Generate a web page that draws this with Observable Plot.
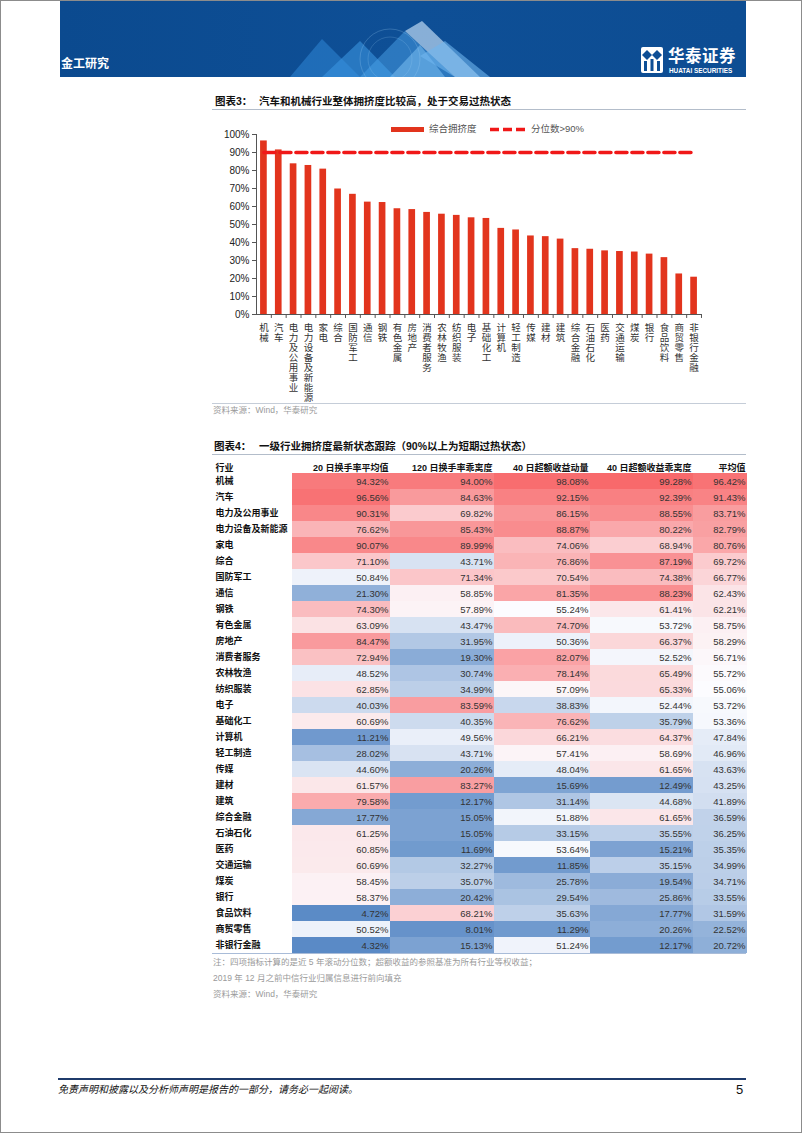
<!DOCTYPE html>
<html>
<head>
<meta charset="utf-8">
<script src="https://cdn.jsdelivr.net/npm/d3@7"></script>
<script src="https://cdn.jsdelivr.net/npm/@observablehq/plot@0.6"></script>
<style>
html,body{margin:0;padding:0;background:#fff}
#page{position:relative;width:802px;height:1133px;box-sizing:border-box;border:1px solid #8c8c8c;overflow:hidden;
  font-family:"Liberation Sans",Arial,"Noto Sans CJK SC",sans-serif;color:#222}
.abs{position:absolute;white-space:nowrap}
.cjk{font-family:"Liberation Sans","Noto Sans CJK SC",sans-serif}
.title{font-size:10.5px;font-weight:700;color:#111;line-height:14px}
.hline{position:absolute;height:1px;background:#b3bdca}
.note{font-size:8.5px;color:#9a9a9a;line-height:12px}
</style>
</head>
<body>
<div id="page">
  <!-- page header band -->
  <div class="abs" style="left:59px;top:0;width:686px;height:76px;background:linear-gradient(90deg,#0b4a8f 0%,#0e4f96 50%,#0d4d93 100%);overflow:hidden">
    <svg width="686" height="76" style="position:absolute;left:0;top:0">
      <polygon points="230,76 262,38 300,76" fill="#2f86d6" opacity="0.55"/>
      <polygon points="262,76 300,40 335,76" fill="#3b95e0" opacity="0.6"/>
      <polygon points="300,76 345,30 395,76" fill="#4aa2e8" opacity="0.5"/>
      <polygon points="330,76 360,44 385,76" fill="#7cc0f2" opacity="0.55"/>
      <polygon points="345,30 362,20 420,76 395,76" fill="#bcd8f2" opacity="0.7"/>
      <polygon points="360,55 385,40 430,76 395,76" fill="#6fb6ee" opacity="0.6"/>
      <circle cx="330" cy="58" r="30" fill="none" stroke="#9fd0f5" stroke-opacity="0.25"/>
      <circle cx="330" cy="58" r="22" fill="none" stroke="#9fd0f5" stroke-opacity="0.2"/>
    </svg>
    <div class="abs cjk" style="left:1px;top:55px;font-size:12px;color:#fff;font-weight:700;line-height:16px">金工研究</div>
    <svg class="abs" style="left:581px;top:46px" width="22" height="26" viewBox="0 0 22 26">
      <rect x="0" y="0" width="22" height="26" rx="2" fill="#fff"/>
      <polygon points="6,3 11,8 6,13 1,8" fill="#0e4f96"/>
      <polygon points="16,3 21,8 16,13 11,8" fill="#0e4f96"/>
      <rect x="3" y="14" width="3" height="10" fill="#0e4f96"/>
      <rect x="9.5" y="12" width="3" height="12" fill="#0e4f96"/>
      <rect x="16" y="14" width="3" height="10" fill="#0e4f96"/>
    </svg>
    <div class="abs cjk" style="left:608px;top:46px;font-size:16.5px;font-weight:700;color:#fff;letter-spacing:0.5px;line-height:19px">华泰证券</div>
    <div class="abs" style="left:609px;top:66px;font-size:6.4px;font-weight:700;color:#fff;line-height:7px">HUATAI SECURITIES</div>
  </div>

  <!-- Figure 3 -->
  <div class="abs title cjk" style="left:214px;top:93px">图表3：</div>
  <div class="abs title cjk" style="left:258px;top:93px">汽车和机械行业整体拥挤度比较高，处于交易过热状态</div>
  <div class="hline" style="left:211px;top:108px;width:534px"></div>

  <div id="chart3" class="abs" style="left:205px;top:120px"></div>

  <!-- legend -->
  <div class="abs" style="left:390px;top:126px;width:33px;height:5px;background:#e2341d"></div>
  <div id="legBar" class="abs cjk" style="left:428px;top:121px;font-size:9.5px;color:#555;line-height:14px"></div>
  <svg class="abs" style="left:489px;top:125px" width="38" height="7"><line x1="0" y1="3.5" x2="38" y2="3.5" stroke="#f01818" stroke-width="3.5" stroke-dasharray="9,4"/></svg>
  <div id="legLine" class="abs cjk" style="left:530px;top:121px;font-size:9.5px;color:#555;line-height:14px"></div>

  <div class="hline" style="left:211px;top:402px;width:534px;background:#c5cdd8"></div>
  <div class="abs note cjk" style="left:212px;top:403px">资料来源：Wind，华泰研究</div>

  <!-- Figure 4 -->
  <div class="abs title cjk" style="left:213px;top:438px">图表4：</div>
  <div class="abs title cjk" style="left:258px;top:438px">一级行业拥挤度最新状态跟踪（90%以上为短期过热状态）</div>
  <div class="hline" style="left:211px;top:453px;width:534px"></div>

  <div id="table4" class="abs" style="left:205px;top:455px"></div>

  <div class="hline" style="left:211px;top:952px;width:534px;background:#a9bcd8"></div>
  <div class="abs note cjk" style="left:212px;top:955px">注：四项指标计算的是近 5 年滚动分位数；超额收益的参照基准为所有行业等权收益；</div>
  <div class="abs note cjk" style="left:212px;top:971px">2019 年 12 月之前中信行业归属信息进行前向填充</div>
  <div class="abs note cjk" style="left:212px;top:987px">资料来源：Wind，华泰研究</div>

  <!-- footer -->
  <div class="abs" style="left:57px;top:1077px;width:688px;height:2px;background:#1f3b6b"></div>
  <div class="abs cjk" style="left:57px;top:1082px;font-size:10px;font-style:italic;color:#111;line-height:14px">免责声明和披露以及分析师声明是报告的一部分，请务必一起阅读。</div>
  <div class="abs" style="left:735px;top:1081px;font-size:13px;color:#111;line-height:16px">5</div>
</div>

<script>
// ---------------- data ----------------
const industries = ["机械","汽车","电力及公用事业","电力设备及新能源","家电","综合","国防军工","通信","钢铁","有色金属",
  "房地产","消费者服务","农林牧渔","纺织服装","电子","基础化工","计算机","轻工制造","传媒","建材",
  "建筑","综合金融","石油石化","医药","交通运输","煤炭","银行","食品饮料","商贸零售","非银行金融"];
const turnover20 = [94.32,96.56,90.31,76.62,90.07,71.10,50.84,21.30,74.30,63.09,
  84.47,72.94,48.52,62.85,40.03,60.69,11.21,28.02,44.60,61.57,
  79.58,17.77,61.25,60.85,60.69,58.45,58.37,4.72,50.52,4.32];
const turnoverDev120 = [94.00,84.63,69.82,85.43,89.99,43.71,71.34,58.85,57.89,43.47,
  31.95,19.30,30.74,34.99,83.59,40.35,49.56,43.71,20.26,83.27,
  12.17,15.05,15.05,11.69,32.27,35.07,20.42,68.21,8.01,15.13];
const excessMom40 = [98.08,92.15,86.15,88.87,74.06,76.86,70.54,81.35,55.24,74.70,
  50.36,82.07,78.14,57.09,38.83,76.62,66.21,57.41,48.04,15.69,
  31.14,51.88,33.15,53.64,11.85,25.78,29.54,35.63,11.29,51.24];
const excessDev40 = [99.28,92.39,88.55,80.22,68.94,87.19,74.38,88.23,61.41,53.72,
  66.37,52.52,65.49,65.33,52.44,35.79,64.37,58.69,61.65,12.49,
  44.68,61.65,35.55,15.21,35.15,19.54,25.86,17.77,20.26,12.17];
const average = [96.42,91.43,83.71,82.79,80.76,69.72,66.77,62.43,62.21,58.75,
  58.29,56.71,55.72,55.06,53.72,53.36,47.84,46.96,43.63,43.25,
  41.89,36.59,36.25,35.35,34.99,34.71,33.55,31.59,22.52,20.72];
const threshold = 90;
const columnHeaders = ["20 日换手率平均值","120 日换手率乖离度","40 日超额收益动量","40 日超额收益乖离度","平均值"];
const firstHeader = "行业";
const yTicks = [0,10,20,30,40,50,60,70,80,90,100];
const barLegend = "综合拥挤度", lineLegend = "分位数>90%";

document.getElementById("legBar").textContent = barLegend;
document.getElementById("legLine").textContent = lineLegend;

// ---------------- layout ----------------
const FONT = '"Liberation Sans", Arial, "Noto Sans CJK SC", sans-serif';
const CJK = '"Noto Sans CJK SC", sans-serif';

// ---------- Figure 3: bar chart ----------
{
  const W = 540, H = 278, mL = 50, mR = 45, mT = 13, mB = 85;
  const step = (W - mL - mR) / industries.length;
  const rows = industries.map((name, i) => ({name, value: average[i] / 100}));
  const chart = Plot.plot({
    width: W, height: H, marginLeft: mL, marginRight: mR, marginTop: mT, marginBottom: mB,
    style: {fontFamily: FONT, background: "transparent", overflow: "visible"},
    x: {domain: industries, paddingInner: 0.55, paddingOuter: 0.275, round: false, axis: null},
    y: {domain: [0, 1], axis: null},
    marks: [
      Plot.barY(rows, {x: "name", y: "value", fill: "#e2341d"}),
      Plot.lineY(rows, {x: "name", y: threshold / 100, stroke: "#f01818", strokeWidth: 3.6, strokeDasharray: "11,5"}),
      Plot.ruleY([0], {stroke: "#555", strokeWidth: 1}),
      Plot.ruleX([industries[0]], {y1: 0, y2: 1, dx: -step / 2, stroke: "#555", strokeWidth: 1}),
      Plot.ruleX(industries, {x: d => d, y1: 0, y2: -0.022, dx: step / 2, stroke: "#555", strokeWidth: 1}),
      Plot.axisY({ticks: yTicks.map(d => d / 100), tickFormat: d3.format(".0%"), tickSize: 4, tickPadding: 3,
        fontSize: 10, stroke: "#555", fill: "#222", label: null}),
      Plot.text(rows, {x: "name", y: 0, text: "name", textAnchor: "start", dy: 5,
        fontSize: 9.5, fill: "#333", fontFamily: CJK, ariaLabel: "industry-label"})
    ]
  });
  // category labels are set vertically, one character under another, as in the reference
  chart.querySelectorAll('g[aria-label="industry-label"] text, g[aria-label="text"] text').forEach(t => {
    t.setAttribute("writing-mode", "vertical-rl");
    t.style.writingMode = "vertical-rl";
    t.removeAttribute("dy");
    t.setAttribute("letter-spacing", "0.5");
  });
  document.getElementById("chart3").appendChild(chart);
}

// ---------- Figure 4: heat table ----------
{
  const W = 545, mT = 17, rowH = 16, H = mT + rowH * industries.length + 1;
  const tableLeft = 86;                     // where the coloured cells start
  const colWidths = [98, 104, 96, 103, 54]; // layout of the five numeric columns
  const edges = [tableLeft];
  colWidths.forEach(w => edges.push(edges[edges.length - 1] + w));
  const series = [turnover20, turnoverDev120, excessMom40, excessDev40, average];
  const cells = [];
  industries.forEach((name, i) => series.forEach((s, j) => cells.push({industry: name, col: j, value: s[i]})));
  const all = cells.map(d => d.value);
  const cmin = d3.min(all), cmed = d3.median(all), cmax = d3.max(all);
  const heads = columnHeaders.map((h, j) => ({h, j}));

  const table = Plot.plot({
    width: W, height: H, marginLeft: 0, marginRight: 0, marginTop: mT, marginBottom: 1,
    style: {fontFamily: FONT, background: "transparent", overflow: "visible"},
    x: {type: "linear", domain: [0, W], range: [0, W], axis: null},
    y: {domain: industries, padding: 0, round: false, axis: null},
    color: {type: "linear", domain: [cmin, cmed, cmax], range: ["#5a8ac6", "#fcfcff", "#f8696b"]},
    marks: [
      Plot.barX(cells, {x1: d => edges[d.col], x2: d => edges[d.col + 1], y: "industry", fill: "value"}),
      Plot.text(cells, {x: d => edges[d.col + 1], y: "industry", dx: -2, textAnchor: "end",
        text: d => d.value.toFixed(2) + "%", fontSize: 9.5, fill: "#333"}),
      Plot.text(industries, {x: 9, y: d => d, textAnchor: "start", text: d => d,
        fontSize: 9, fontWeight: 700, fill: "#111", fontFamily: CJK}),
      Plot.text(heads, {x: d => edges[d.j + 1], frameAnchor: "top", dy: -9, dx: -2, textAnchor: "end",
        text: "h", fontSize: 9, fontWeight: 700, fill: "#111", fontFamily: FONT}),
      Plot.text([firstHeader], {x: 9, frameAnchor: "top", dy: -9, textAnchor: "start", text: d => d,
        fontSize: 9, fontWeight: 700, fill: "#111", fontFamily: CJK})
    ]
  });
  document.getElementById("table4").appendChild(table);
}
</script>
</body>
</html>
